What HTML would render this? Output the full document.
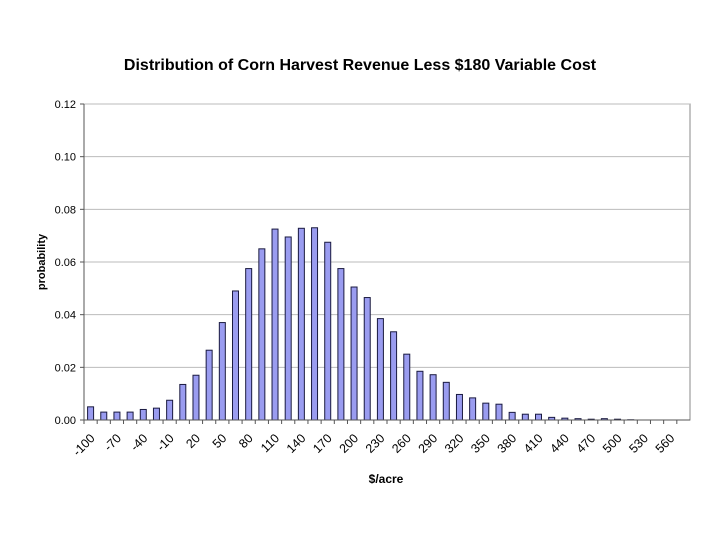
<!DOCTYPE html>
<html><head><meta charset="utf-8"><style>
body{margin:0;background:#fff;}
svg text{font-family:"Liberation Sans",Arial,sans-serif;}
</style></head><body>
<svg width="720" height="540" viewBox="0 0 720 540">
<text x="360" y="70" text-anchor="middle" font-size="16" font-weight="bold">Distribution of Corn Harvest Revenue Less $180 Variable Cost</text>
<text transform="translate(45,262) rotate(-90)" text-anchor="middle" font-size="11" font-weight="bold">probability</text>
<text x="386" y="483" text-anchor="middle" font-size="12" font-weight="bold">$/acre</text>
<g id="grid"></g><g id="bars"></g><g id="axes"></g>
</svg>
<script>
const categories=[-100,-85,-70,-55,-40,-25,-10,5,20,35,50,65,80,95,110,125,140,155,170,185,200,215,230,245,260,275,290,305,320,335,350,365,380,395,410,425,440,455,470,485,500,515,530,545,560,575];
const values=[0.005,0.003,0.003,0.003,0.004,0.0045,0.0075,0.0135,0.017,0.0265,0.037,0.049,0.0575,0.065,0.0725,0.0695,0.0728,0.073,0.0675,0.0575,0.0505,0.0465,0.0385,0.0335,0.025,0.0185,0.0172,0.0143,0.0097,0.0084,0.0064,0.006,0.0029,0.0022,0.0022,0.001,0.0007,0.0005,0.0003,0.0005,0.0003,0.0001,0,0,0,0];
const yTicks=[0,0.02,0.04,0.06,0.08,0.10,0.12];
const yTickLabels=["0.00","0.02","0.04","0.06","0.08","0.10","0.12"];
const X0=84,X1=690,Y0=420,Y1=104,YMAX=0.12;
const NS="http://www.w3.org/2000/svg";
const step=(X1-X0)/categories.length;
const xPos=i=>X0+step*(i+0.5);
const yPos=v=>Y0-(v/YMAX)*(Y0-Y1);
function mk(t,a,p){const e=document.createElementNS(NS,t);for(const k in a)e.setAttribute(k,a[k]);p.appendChild(e);return e;}
const grid=document.getElementById('grid'),bars=document.getElementById('bars'),axes=document.getElementById('axes');
mk('rect',{x:X0,y:Y1,width:X1-X0,height:Y0-Y1,fill:'none',stroke:'#888','stroke-width':1},grid);
yTicks.forEach((v,i)=>{
  const y=yPos(v);
  const l=mk('line',{x1:X0,x2:X1,y1:y,y2:y,stroke:'#bbb','stroke-width':1},grid);
  
  
  mk('line',{x1:X0-4,x2:X0,y1:y,y2:y,stroke:'#555'},axes);
  const t=mk('text',{x:X0-8,y:y+4,'text-anchor':'end','font-size':'11'},axes);
  t.textContent=yTickLabels[i];
  
  
});
values.forEach((v,i)=>{
  const y=yPos(v);
  const r=mk('rect',{x:xPos(i)-3,y:y,width:6,height:Math.max(Y0-y,0),fill:'#9a9cf0',stroke:'#1a1a40','stroke-width':1},bars);
  
  
});
mk('line',{x1:X0,x2:X0,y1:Y1,y2:Y0,stroke:'#555'},axes);
mk('line',{x1:X0,x2:X1,y1:Y0,y2:Y0,stroke:'#555'},axes);
categories.forEach((c,i)=>{
  const x=X0+step*i;
  mk('line',{x1:x,x2:x,y1:Y0,y2:Y0+4,stroke:'#555'},axes);
  if(i%2===0){
    const t=mk('text',{transform:`translate(${xPos(i)+5},${Y0+19}) rotate(-45)`,'text-anchor':'end','font-size':'12.5'},axes);
    t.textContent=c;
    
    
  }
});
</script>
</body></html>
